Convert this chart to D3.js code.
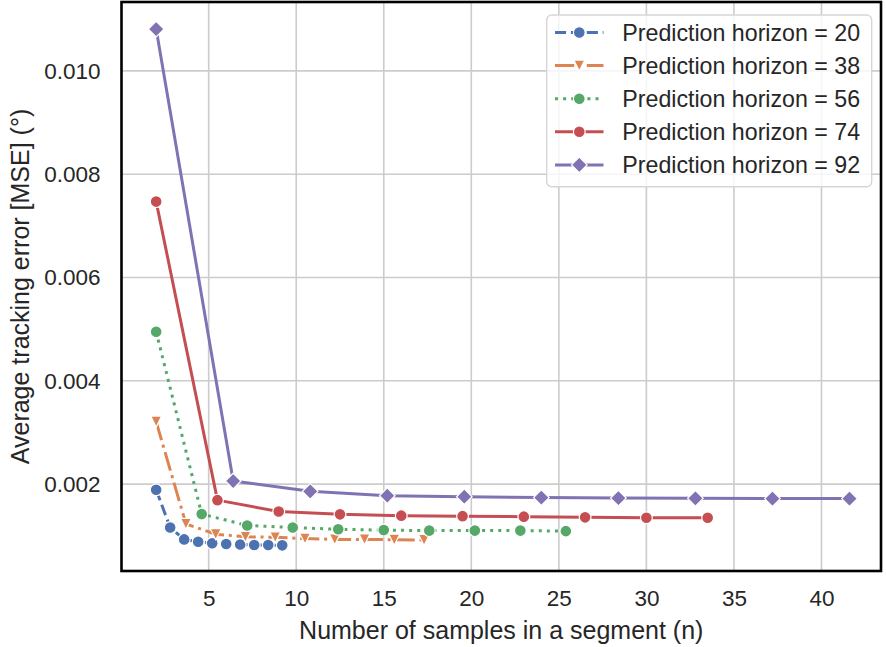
<!DOCTYPE html>
<html>
<head>
<meta charset="utf-8">
<script src="https://cdn.jsdelivr.net/npm/d3@7"></script>
<style>
  html, body { margin: 0; padding: 0; background: #ffffff; }
  svg { display: block; }
  text { font-family: "Liberation Sans", Arial, Helvetica, sans-serif; fill: #262626; }
</style>
</head>
<body>
<svg id="chart" width="886" height="647"></svg>
<script>
// ---- data ----
const horizons = [20, 38, 56, 74, 92];
const n20 = [2, 2.8, 3.6, 4.4, 5.2, 6, 6.8, 7.6, 8.4, 9.2];
const n38 = [2, 3.7, 5.4, 7.1, 8.8, 10.5, 12.2, 13.9, 15.6, 17.3];
const n56 = [2, 4.6, 7.2, 9.8, 12.4, 15, 17.6, 20.2, 22.8, 25.4];
const n74 = [2, 5.5, 9, 12.5, 16, 19.5, 23, 26.5, 30, 33.5];
const n92 = [2, 6.4, 10.8, 15.2, 19.6, 24, 28.4, 32.8, 37.2, 41.6];
const e20 = [0.00189, 0.00116, 0.00093, 0.000885, 0.000855, 0.00084, 0.00083, 0.000822, 0.00082, 0.000815];
const e38 = [0.00321, 0.00123, 0.00103, 0.00098, 0.00097, 0.000945, 0.00093, 0.00093, 0.000924, 0.000918];
const e56 = [0.00495, 0.00142, 0.0012, 0.00116, 0.001125, 0.00111, 0.0011, 0.0011, 0.0011, 0.00109];
const e74 = [0.00747, 0.00169, 0.00147, 0.001415, 0.00139, 0.00138, 0.00137, 0.001357, 0.00135, 0.00135];
const e92 = [0.01081, 0.00206, 0.00186, 0.001775, 0.001756, 0.00174, 0.00173, 0.001725, 0.00172, 0.00172];
const xTicks = [5, 10, 15, 20, 25, 30, 35, 40];
const yTicks = [0.002, 0.004, 0.006, 0.008, 0.010];
const xLabel = "Number of samples in a segment (n)";
const yLabel = "Average tracking error [MSE] (°)";

const xsList = [n20, n38, n56, n74, n92];
const ysList = [e20, e38, e56, e74, e92];
const colors = ["#4C72B0", "#DD8452", "#55A868", "#C44E52", "#8172B3"];
const markers = ["circle", "tri", "circle", "circle", "diamond"];
const LW = 3;
const dashes = [
  [3.7 * LW, 1.6 * LW].join(","),
  [6.4 * LW, 1.6 * LW, 1 * LW, 1.6 * LW].join(","),
  [1 * LW, 1.7 * LW].join(","),
  null, null
];

const series = horizons.map((h, i) => ({
  label: "Prediction horizon = " + h,
  color: colors[i], marker: markers[i], dash: dashes[i],
  pts: xsList[i].map((x, j) => ({ x: x, y: ysList[i][j] }))
}));

// ---- layout ----
const L = 121.5, R = 881, T = 2, B = 571;
const x = d3.scaleLinear().domain([0.02, 43.4]).range([L, R]);
const y = d3.scaleLinear().domain([0.000318, 0.011334]).range([B, T]);

const svg = d3.select("#chart");

// grid
const grid = svg.append("g");
grid.selectAll("line.gx").data(xTicks).enter().append("line")
  .attr("x1", d => x(d)).attr("x2", d => x(d)).attr("y1", T).attr("y2", B)
  .attr("stroke", "#cccccc").attr("stroke-width", 1.6);
grid.selectAll("line.gy").data(yTicks).enter().append("line")
  .attr("y1", d => y(d)).attr("y2", d => y(d)).attr("x1", L).attr("x2", R)
  .attr("stroke", "#cccccc").attr("stroke-width", 1.6);

// axes (labels only, via d3 axes)
const xAxis = svg.append("g").attr("transform", `translate(0,${B})`)
  .call(d3.axisBottom(x).tickValues(xTicks).tickSize(0).tickPadding(19).tickFormat(d3.format("d")));
const yAxis = svg.append("g").attr("transform", `translate(${L},0)`)
  .call(d3.axisLeft(y).tickValues(yTicks).tickSize(0).tickPadding(21).tickFormat(d3.format(".3f")));
[xAxis, yAxis].forEach(a => {
  a.select(".domain").remove();
  a.selectAll("text").attr("font-size", 22.5).attr("fill", "#262626")
    .style("font-family", '"Liberation Sans", Arial, sans-serif');
});

// lines + markers
const clip = svg.append("defs").append("clipPath").attr("id", "clip")
  .append("rect").attr("x", L).attr("y", T).attr("width", R - L).attr("height", B - T);

const line = d3.line().x(d => x(d.x)).y(d => y(d.y));

function drawMarker(g, type, cx, cy, color, scale) {
  const s = scale || 1;
  if (type === "circle") {
    g.append("circle").attr("cx", cx).attr("cy", cy).attr("r", 5.9 * s)
      .attr("fill", color).attr("stroke", "#ffffff").attr("stroke-width", 1.2);
  } else if (type === "diamond") {
    const r = 7.8 * s;
    g.append("path").attr("d", `M${cx},${cy - r}L${cx + r},${cy}L${cx},${cy + r}L${cx - r},${cy}Z`)
      .attr("fill", color).attr("stroke", "#ffffff").attr("stroke-width", 1.2);
  } else if (type === "tri") {
    const r = 5.5 * s;
    g.append("path").attr("d", `M${cx - r},${cy - r}L${cx + r},${cy - r}L${cx},${cy + r}Z`)
      .attr("fill", color).attr("stroke", "#ffffff").attr("stroke-width", 1.2);
  }
}

const plot = svg.append("g").attr("clip-path", "url(#clip)");
series.forEach(s => {
  const g = plot.append("g");
  const p = g.append("path").datum(s.pts).attr("d", line)
    .attr("fill", "none").attr("stroke", s.color).attr("stroke-width", LW)
    .attr("stroke-linejoin", "round").attr("stroke-linecap", "butt");
  if (s.dash) p.attr("stroke-dasharray", s.dash);
  s.pts.forEach(d => drawMarker(g, s.marker, x(d.x), y(d.y), s.color));
});

// frame
svg.append("rect").attr("x", L).attr("y", T).attr("width", R - L).attr("height", B - T)
  .attr("fill", "none").attr("stroke", "#000000").attr("stroke-width", 2.6);

// axis titles
svg.append("text").attr("x", (L + R) / 2).attr("y", 639).attr("text-anchor", "middle")
  .attr("font-size", 25).text(xLabel);
svg.append("text").attr("transform", `translate(29,${(T + B) / 2}) rotate(-90)`)
  .attr("text-anchor", "middle").attr("font-size", 25).text(yLabel);

// legend
const lg = svg.append("g");
lg.append("rect").attr("x", 546.7).attr("y", 15).attr("width", 325).attr("height", 171.7)
  .attr("rx", 5).attr("ry", 5).attr("fill", "#ffffff").attr("fill-opacity", 0.8)
  .attr("stroke", "#d6d6d6").attr("stroke-width", 1.4);
series.forEach((s, i) => {
  const cy = 32.5 + i * 33.1;
  const row = lg.append("g");
  const hl = row.append("line").attr("x1", 555).attr("x2", 603.5).attr("y1", cy).attr("y2", cy)
    .attr("stroke", s.color).attr("stroke-width", LW);
  if (s.dash) hl.attr("stroke-dasharray", s.dash);
  drawMarker(row, s.marker, 579.3, cy, s.color);
  row.append("text").attr("x", 622.3).attr("y", cy).attr("dy", "0.35em")
    .attr("font-size", 23.2).text(s.label);
});
</script>
</body>
</html>
